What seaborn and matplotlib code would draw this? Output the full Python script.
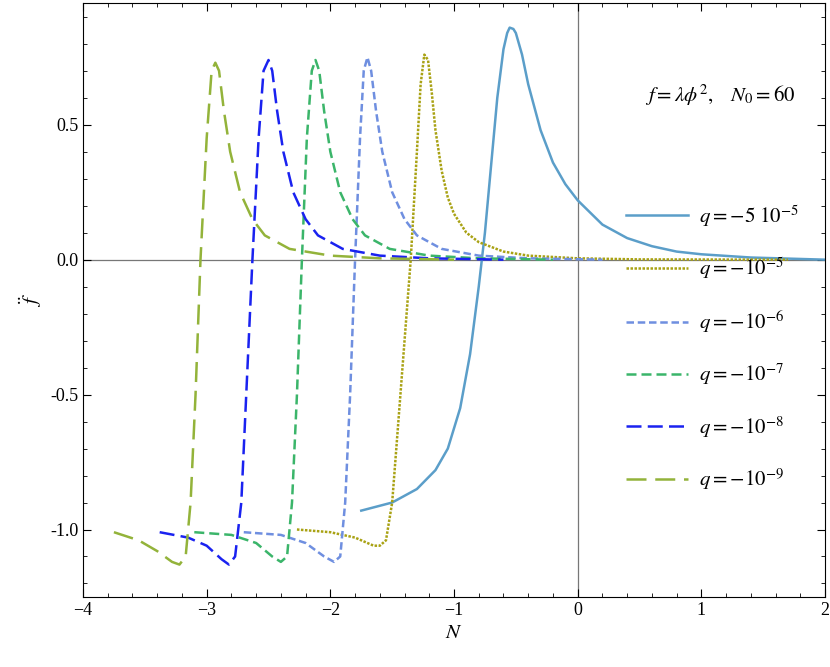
import matplotlib
matplotlib.use("Agg")
import matplotlib.pyplot as plt
import seaborn as sns
import pandas as pd
from matplotlib.ticker import MultipleLocator, FormatStrFormatter

plt.rcParams["font.family"] = "Liberation Serif"
plt.rcParams["mathtext.fontset"] = "stix"
plt.rcParams["axes.unicode_minus"] = True

labels = [r"$q=-5\ 10^{-5}$", r"$q=-10^{-5}$", r"$q=-10^{-6}$",
          r"$q=-10^{-7}$", r"$q=-10^{-8}$", r"$q=-10^{-9}$"]

N1 = [-1.75,-1.5,-1.3,-1.15,-1.05,-0.95,-0.87,-0.8,-0.75,-0.7,-0.65,-0.6,-0.57,-0.55,-0.52,-0.5,-0.45,-0.4,-0.3,-0.2,-0.1,0,0.2,0.4,0.6,0.8,1.0,1.4,2.0]
F1 = [-0.93,-0.9,-0.85,-0.78,-0.7,-0.55,-0.35,-0.1,0.1,0.35,0.6,0.78,0.84,0.86,0.855,0.84,0.76,0.65,0.48,0.36,0.28,0.22,0.13,0.08,0.05,0.03,0.02,0.008,0.0]
N2 = [-2.27,-2.0,-1.8,-1.65,-1.6,-1.55,-1.5,-1.45,-1.4,-1.35,-1.3,-1.27,-1.24,-1.21,-1.18,-1.15,-1.1,-1.05,-1.0,-0.9,-0.8,-0.6,-0.4,0,0.5,1.7]
F2 = [-1.0,-1.01,-1.03,-1.06,-1.06,-1.04,-0.9,-0.6,-0.3,0.0,0.4,0.65,0.76,0.74,0.62,0.48,0.33,0.23,0.17,0.1,0.065,0.03,0.015,0.005,0.001,0.0]
N3 = [-2.7,-2.4,-2.2,-2.05,-1.97,-1.92,-1.88,-1.84,-1.8,-1.76,-1.73,-1.70,-1.67,-1.63,-1.58,-1.5,-1.4,-1.3,-1.1,-0.8,-0.4,0.2]
F3 = [-1.01,-1.02,-1.05,-1.1,-1.12,-1.1,-0.9,-0.5,0.0,0.45,0.7,0.75,0.7,0.55,0.4,0.25,0.15,0.09,0.04,0.015,0.005,0.0]
N4 = [-3.1,-2.8,-2.6,-2.47,-2.4,-2.35,-2.31,-2.27,-2.23,-2.19,-2.15,-2.12,-2.09,-2.05,-2.0,-1.92,-1.82,-1.72,-1.52,-1.2,-0.8,-0.2]
F4 = [-1.01,-1.02,-1.05,-1.1,-1.12,-1.1,-0.9,-0.5,0.0,0.45,0.7,0.74,0.7,0.55,0.4,0.25,0.15,0.09,0.04,0.015,0.005,0.0]
N5 = [-3.38,-3.15,-3.0,-2.88,-2.82,-2.77,-2.72,-2.68,-2.63,-2.58,-2.54,-2.5,-2.47,-2.43,-2.38,-2.3,-2.2,-2.1,-1.9,-1.6,-1.2,-0.6]
F5 = [-1.01,-1.03,-1.06,-1.11,-1.13,-1.1,-0.9,-0.5,0.0,0.45,0.7,0.74,0.7,0.55,0.4,0.25,0.15,0.09,0.04,0.015,0.005,0.0]
N6 = [-3.75,-3.55,-3.4,-3.28,-3.22,-3.17,-3.13,-3.09,-3.05,-3.0,-2.96,-2.93,-2.9,-2.86,-2.81,-2.73,-2.63,-2.53,-2.33,-2.0,-1.6,-1.0]
F6 = [-1.01,-1.04,-1.08,-1.12,-1.13,-1.1,-0.9,-0.5,0.0,0.45,0.7,0.73,0.7,0.55,0.4,0.25,0.15,0.09,0.04,0.015,0.005,0.0]

Ns = [N1, N2, N3, N4, N5, N6]
Fs = [F1, F2, F3, F4, F5, F6]
colors = ["#5b9ec9", "#a9a214", "#6f8fe0", "#3bb56a", "#1a22f0", "#93b33a"]
dashes = [(None, None), (1, 0.6), (3, 1.5), (4, 2), (6, 2.5), (8, 3.5)]

fig, ax = plt.subplots(figsize=(8.3, 6.67), dpi=100)
fig.subplots_adjust(left=0.1, right=0.994, top=0.995, bottom=0.105)
ax.axhline(0, color="#777777", lw=0.9, zorder=0)
ax.axvline(0, color="#777777", lw=0.9, zorder=0)

for i in range(6):
    df = pd.DataFrame({"N": Ns[i], "f": Fs[i]})
    sns.lineplot(data=df, x="N", y="f", ax=ax, sort=False, color=colors[i],
                 lw=1.8, label=labels[i])
    if dashes[i][0] is not None:
        ax.lines[-1].set_dashes(dashes[i])

ax.set_xlim(-4, 2)
ax.set_ylim(-1.25, 0.95)
ax.xaxis.set_major_locator(MultipleLocator(1))
ax.xaxis.set_minor_locator(MultipleLocator(0.2))
ax.yaxis.set_major_locator(MultipleLocator(0.5))
ax.yaxis.set_minor_locator(MultipleLocator(0.1))
ax.yaxis.set_major_formatter(FormatStrFormatter("%.1f"))
ax.tick_params(which="both", direction="in", top=True, right=True, labelsize=13)
ax.tick_params(which="major", length=6)
ax.tick_params(which="minor", length=3)
ax.set_xlabel(r"$N$", fontsize=15)
ax.set_ylabel(r"$\ddot{f}$", fontsize=15)
ax.text(0.96, 0.845, r"$f=\lambda\phi^2,\quad N_0=60$", transform=ax.transAxes,
        ha="right", va="center", fontsize=15)
ax.legend(loc="center right", bbox_to_anchor=(0.99, 0.42), frameon=False,
          fontsize=15, handlelength=3.0, handletextpad=0.5, labelspacing=1.3)
fig.savefig("out.png", dpi=100)
